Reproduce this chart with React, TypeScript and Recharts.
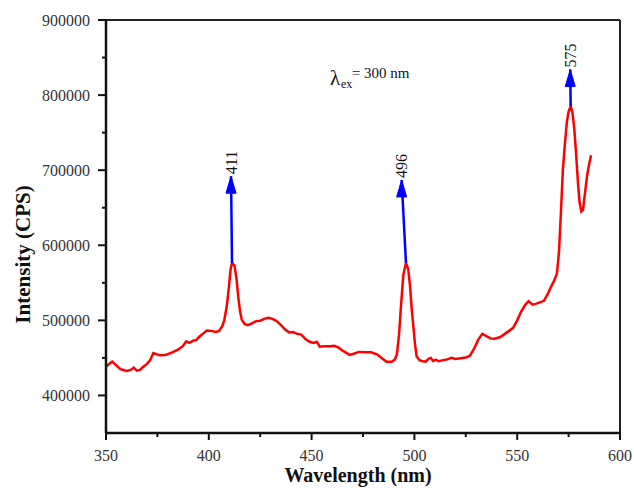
import React from 'react';
import { LineChart, Line, XAxis, YAxis, ReferenceLine, ReferenceDot } from 'recharts';

const wavelength = [
  350, 351.5, 353, 355, 357, 360, 362, 363.5, 365, 366.5, 368, 370, 371.5, 373, 374.5, 376, 379, 382, 385, 387.5,
  389, 390.5, 392.5, 394, 395.5, 397.5, 399, 401, 403.5, 405, 406.5, 407.5, 408.7, 409.8, 410.6, 411.3, 412.5, 413.5,
  414.3, 415.2, 416, 417.5, 419, 421, 423, 425, 427, 429, 431, 433, 435, 437, 439, 441, 443, 445, 447, 449, 451,
  452.5, 454, 456, 459, 461, 463, 465.5, 468.5, 470.5, 473, 476, 479, 482, 484.5, 486.5, 489, 490.5, 491.5, 492.5,
  493.5, 494.6, 495.9, 497, 497.9, 498.7, 499.5, 500.3, 501.1, 502.5, 504, 505.5, 507, 508, 509, 510.5, 512, 514,
  516, 518, 520, 522.5, 525, 527, 529, 531, 533, 535, 537, 539, 541.5, 543, 545.5, 548, 550, 552, 554, 555.5, 557.5,
  559, 561, 563, 565, 566.5, 568, 569.3, 570.3, 571.2, 572.2, 573.2, 574.2, 575, 576, 576.8, 577.7, 578.7, 579.5,
  580.3, 581.2, 582, 583, 584, 585, 585.9,
];

const intensity = [
  438000, 442000, 445000, 440000, 435000, 432500, 434000, 437000, 433000, 434000, 438000, 442000, 447000, 456500,
  455000, 453500, 454000, 457000, 461000, 466000, 472000, 470000, 473000, 474000, 478500, 483000, 486500, 486000,
  484500, 486000, 492000, 500000, 518000, 545000, 568000, 576500, 573000, 555000, 532000, 512000, 501000, 495000,
  493500, 496000, 499000, 499500, 502000, 503500, 502000, 499000, 494000, 488000, 484000, 484500, 482000, 481000,
  475000, 471500, 470000, 471500, 465000, 465500, 465500, 466000, 464000, 459000, 454000, 455500, 458000, 457500,
  457500, 454500, 449000, 445000, 444800, 448000, 455000, 480000, 520000, 560000, 576500, 568000, 545000, 515000,
  492000, 468000, 452000, 447000, 445500, 445000, 449000, 450000, 446000, 447500, 445500, 447000, 448000, 450000,
  448500, 449500, 450500, 453000, 462000, 474000, 482000, 479000, 476000, 475500, 477500, 480000, 485000, 490000,
  500000, 512000, 521000, 525500, 521000, 522000, 524000, 526000, 536000, 545000, 553000, 562000, 590000, 640000,
  700000, 735000, 765000, 778000, 785000, 778000, 757000, 720000, 685000, 658000, 645000, 647000, 670000, 693000,
  708000, 720000,
];

const xTicks = [350, 375, 400, 425, 450, 475, 500, 525, 550, 575, 600];
const xMajorTicks = [350, 400, 450, 500, 550, 600];
const yTicks = [350000, 400000, 450000, 500000, 550000, 600000, 650000, 700000, 750000, 800000, 850000, 900000];
const yMajorTicks = [400000, 500000, 600000, 700000, 800000, 900000];

const peakLabels = ['411', '496', '575'];
const arrowBaseX = [411.3, 495.9, 576];
const arrowBaseY = [576500, 576500, 785000];
const arrowTipX = [410.8, 493.8, 575.8];
const arrowTipY = [692000, 687000, 834000];

const noteX = 469.6;
const noteY = 823000;

const data = wavelength.map((w, i) => ({ w, v: intensity[i] }));

const SERIF = '"Liberation Serif", "Times New Roman", serif';
const serifStyle = { fontFamily: SERIF };
const X_TICK_SIZE = 7;
const X_TICK_MARGIN = 10;
const Y_TICK_SIZE = 8;
const Y_TICK_MARGIN = 8;

const XTick = (props: any) => {
  const { x, y, payload } = props;
  const major = xMajorTicks.includes(payload.value);
  const axisY = y - X_TICK_SIZE - X_TICK_MARGIN;
  return (
    <g>
      <line x1={x} x2={x} y1={axisY} y2={axisY + (major ? X_TICK_SIZE : 4)} stroke="#111" strokeWidth={2} />
      {major && (
        <text x={x} y={y} dy="0.71em" textAnchor="middle" fontSize={16} style={serifStyle} fill="#333">
          {payload.value}
        </text>
      )}
    </g>
  );
};

const YTick = (props: any) => {
  const { x, y, payload } = props;
  const major = yMajorTicks.includes(payload.value);
  const axisX = x + Y_TICK_SIZE + Y_TICK_MARGIN;
  if (payload.value === 350000) return <g />;
  return (
    <g>
      <line x1={axisX - (major ? Y_TICK_SIZE : 4)} x2={axisX} y1={y} y2={y} stroke="#111" strokeWidth={2} />
      {major && (
        <text x={x} y={y} dy="0.355em" textAnchor="end" fontSize={16} style={serifStyle} fill="#333">
          {payload.value}
        </text>
      )}
    </g>
  );
};

const YLabel = (props: any) => {
  const vb = props.viewBox;
  const cx = vb.x + 23;
  const cy = vb.y + vb.height / 2 + 28;
  return (
    <text
      x={cx}
      y={cy}
      transform={`rotate(-90 ${cx} ${cy})`}
      textAnchor="middle"
      dominantBaseline="central"
      fontSize={21}
      fontWeight="bold"
      style={serifStyle}
      fill="#111"
    >
      Intensity (CPS)
    </text>
  );
};

const XLabel = (props: any) => {
  const vb = props.viewBox;
  return (
    <text
      x={vb.x + vb.width / 2 - 5}
      y={vb.y + 49}
      textAnchor="middle"
      fontSize={20}
      fontWeight="bold"
      style={serifStyle}
      fill="#111"
    >
      Wavelength (nm)
    </text>
  );
};

const makeArrowHead = (label: string) => (props: any) => {
  const { cx, cy } = props;
  const ty = cy - 2;
  return (
    <g>
      <polygon points={`${cx},${cy} ${cx - 5},${cy + 17} ${cx + 5},${cy + 17}`} fill="#0000ff" stroke="#0000ff" strokeWidth={1} />
      <text
        x={cx}
        y={ty}
        transform={`rotate(-90 ${cx} ${ty})`}
        textAnchor="start"
        dominantBaseline="central"
        fontSize={16}
        style={serifStyle}
        fill="#111"
      >
        {label}
      </text>
    </g>
  );
};

const NoteShape = (props: any) => {
  const { cx, cy } = props;
  return (
    <g fill="#111">
      <text x={cx - 22} y={cy + 7} fontSize={21} style={serifStyle}>λ</text>
      <text x={cx - 11} y={cy + 10} fontSize={12} style={serifStyle}>ex</text>
      <text x={cx} y={cy} fontSize={15} style={serifStyle}>= 300 nm</text>
    </g>
  );
};

export default function App() {
  return (
    <div style={{ position: 'absolute', left: 0, top: 0, background: '#fff' }}>
      <LineChart width={634} height={488} data={data} margin={{ top: 20, right: 14, bottom: 5, left: 0 }}>
        <XAxis
          dataKey="w"
          type="number"
          domain={[350, 600]}
          ticks={xTicks}
          interval={0}
          height={50}
          tickSize={X_TICK_SIZE}
          tickMargin={X_TICK_MARGIN}
          tickLine={false}
          axisLine={{ stroke: '#111', strokeWidth: 2.5 }}
          tick={<XTick />}
          allowDataOverflow
          label={<XLabel />}
        />
        <YAxis
          type="number"
          domain={[350000, 900000]}
          ticks={yTicks}
          interval={0}
          width={106}
          tickSize={Y_TICK_SIZE}
          tickMargin={Y_TICK_MARGIN}
          tickLine={false}
          axisLine={{ stroke: '#111', strokeWidth: 2.5 }}
          tick={<YTick />}
          allowDataOverflow
          label={<YLabel />}
        />
        <ReferenceLine y={900000} stroke="#222" strokeWidth={2} />
        <ReferenceLine x={600} stroke="#222" strokeWidth={2} />
        <Line
          type="linear"
          dataKey="v"
          stroke="#ff0000"
          strokeWidth={2.5}
          dot={false}
          isAnimationActive={false}
        />
        {peakLabels.map((lab, i) => (
          <ReferenceLine
            key={'l' + lab}
            segment={[
              { x: arrowBaseX[i], y: arrowBaseY[i] },
              { x: arrowTipX[i], y: arrowTipY[i] },
            ]}
            stroke="#0000ff"
            strokeWidth={2.5}
          />
        ))}
        {peakLabels.map((lab, i) => (
          <ReferenceDot key={'d' + lab} x={arrowTipX[i]} y={arrowTipY[i]} r={0} shape={makeArrowHead(lab)} />
        ))}
        <ReferenceDot x={noteX} y={noteY} r={0} shape={NoteShape} />
      </LineChart>
    </div>
  );
}
